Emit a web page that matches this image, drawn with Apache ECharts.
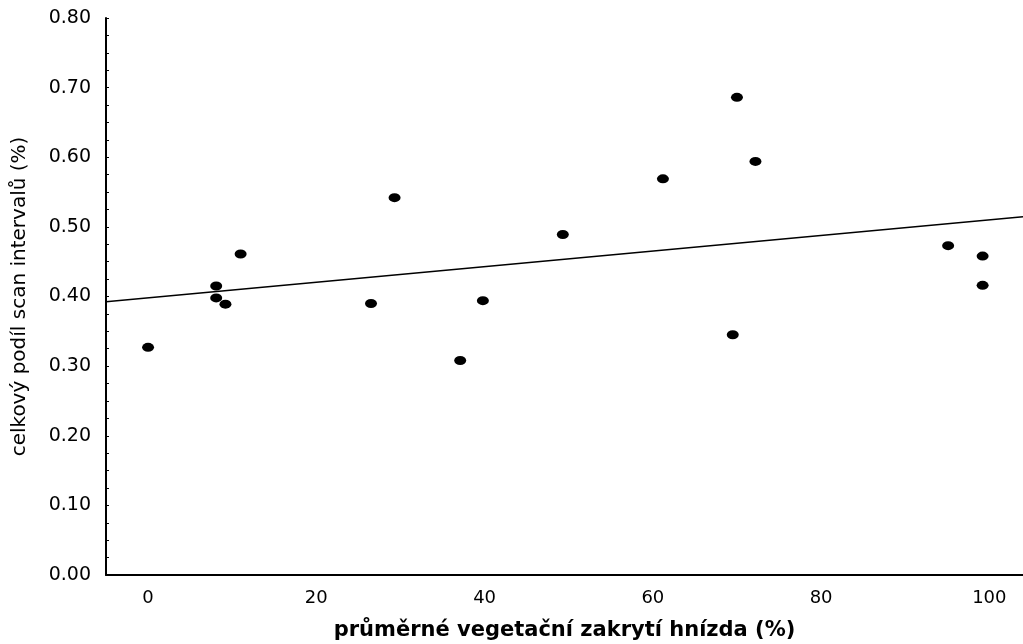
<!DOCTYPE html>
<html>
<head>
<meta charset="utf-8">
<script src="https://cdn.jsdelivr.net/npm/echarts@6/dist/echarts.min.js"></script>
<style>
	html, body { margin: 0; padding: 0; background: #fff; }
	#main_chart { width: 1023px; height: 644px; }
</style>
</head>
<body>
<div id="main_chart"></div>
<script>
// vegetation cover (%) and share of scan intervals
var coverX = [0, 8.1, 8.1, 9.2, 11.0, 26.5, 29.3, 37.1, 39.8, 49.3, 61.2, 69.5, 70.0, 72.2, 95.1, 99.2, 99.2];
var shareY = [0.327, 0.415, 0.398, 0.389, 0.461, 0.390, 0.542, 0.308, 0.394, 0.489, 0.569, 0.345, 0.686, 0.594, 0.473, 0.458, 0.416];

// fitted line (ends of the axis range)
var fitX = [-5, 104];
var fitY = [0.3925, 0.5146];

var yTicks = [0, 0.1, 0.2, 0.3, 0.4, 0.5, 0.6, 0.7, 0.8];
var xTicks = [0, 20, 40, 60, 80, 100];

makeChart();

function makeChart() {
	var chart_do = document.getElementById('main_chart');
	var myChart = echarts.init(chart_do);

	var points = [];
	for (var i = 0; i < coverX.length; i++) {
		points.push([coverX[i], shareY[i]]);
	}
	var fitLine = [];
	for (var j = 0; j < fitX.length; j++) {
		fitLine.push([fitX[j], fitY[j]]);
	}

	var font = 'DejaVu Sans, Verdana, sans-serif';

	var option = {
		animation: false,
		backgroundColor: '#fff',
		grid: {
			left: 106,
			right: 0,
			top: 18,
			bottom: 69,
			containLabel: false,
			outerBoundsMode: 'none'
		},
		xAxis: {
			type: 'value',
			min: -5,
			max: 104,
			interval: 5,
			name: 'průměrné vegetační zakrytí hnízda (%)',
			nameLocation: 'middle',
			nameGap: 45,
			nameTextStyle: {
				color: '#000',
				fontFamily: font,
				fontSize: 21,
				fontWeight: 'bold'
			},
			axisLine: { onZero: false, lineStyle: { color: '#000', width: 2 } },
			axisTick: { show: false },
			splitLine: { show: false },
			axisLabel: {
				color: '#000',
				fontFamily: font,
				fontSize: 18,
				margin: 14,
				formatter: function (v) {
					return xTicks.indexOf(v) >= 0 ? String(v) : '';
				}
			}
		},
		yAxis: {
			type: 'value',
			min: yTicks[0],
			max: yTicks[yTicks.length - 1],
			interval: 0.1,
			name: 'celkový podíl scan intervalů (%)',
			nameLocation: 'middle',
			nameGap: 76,
			nameTextStyle: {
				color: '#000',
				fontFamily: font,
				fontSize: 20
			},
			axisLine: { show: true, onZero: false, lineStyle: { color: '#000', width: 2 } },
			axisTick: { show: true, inside: true, length: 3, lineStyle: { color: '#000' } },
			minorTick: { show: true, splitNumber: 4, length: 3, lineStyle: { color: '#000' } },
			splitLine: { show: false },
			axisLabel: {
				color: '#000',
				fontFamily: font,
				fontSize: 19,
				margin: 15,
				formatter: function (v) {
					return v.toFixed(2);
				}
			}
		},
		series: [{
			type: 'scatter',
			data: points,
			symbol: 'circle',
			symbolSize: [12, 9],
			itemStyle: { color: '#000', opacity: 1 }
		}, {
			type: 'line',
			data: fitLine,
			symbol: 'none',
			lineStyle: { color: '#000', width: 1.5 },
			silent: true
		}]
	};

	myChart.setOption(option);
}
</script>
</body>
</html>
